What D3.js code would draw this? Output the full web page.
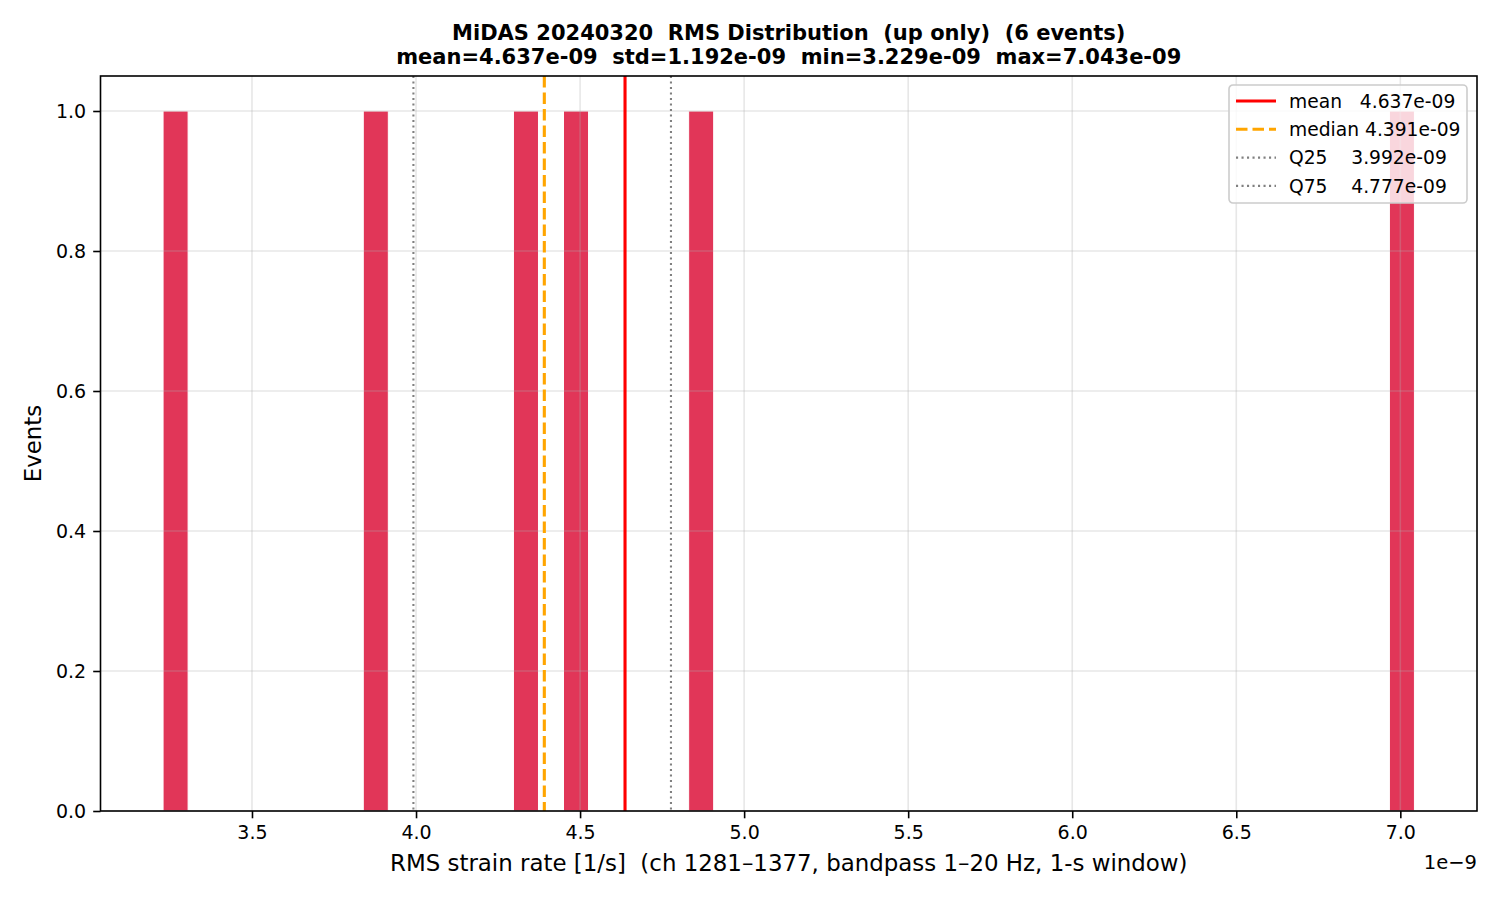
<!DOCTYPE html>
<meta charset="utf-8">

<head>
  <style>
    body {
      margin: 0;
      background: #fff;
    }

    svg text {
      font-family: "DejaVu Sans", sans-serif;
      fill: #000;
      white-space: pre;
    }

    .grid line {
      stroke: #b0b0b0;
      stroke-opacity: 0.3;
      stroke-width: 1.6px;
    }

    .axis path,
    .axis line {
      stroke: #000;
      stroke-width: 1.6px;
    }

    .axis text {
      font-size: 19px;
    }
  </style>
</head>

<body>
  <script src="https://d3js.org/d3.v7.min.js"></script>

  <div id="chart"></div>

  <script>

    // RMS values of the 6 events (units of 1e-9 1/s)
    var events = [3.229, 3.884, 4.316, 4.466, 4.884, 7.043];
    var nBins = 50;

    // summary values as printed on the figure
    var statNames = ["mean", "median", "Q25", "Q75"];
    var statValues = [4.637, 4.391, 3.992, 4.777];
    var statLabels = ["mean   4.637e-09", "median 4.391e-09", "Q25    3.992e-09", "Q75    4.777e-09"];

    var xTicks = [3.5, 4.0, 4.5, 5.0, 5.5, 6.0, 6.5, 7.0];
    var yTicks = [0.0, 0.2, 0.4, 0.6, 0.8, 1.0];

    var titleLines = [
      "MiDAS 20240320  RMS Distribution  (up only)  (6 events)",
      "mean=4.637e-09  std=1.192e-09  min=3.229e-09  max=7.043e-09"
    ];

    var width = 1500,
      height = 900;
    var margin = { top: 76, right: 23, bottom: 89, left: 100.5 };
    var iw = width - margin.left - margin.right,
      ih = height - margin.top - margin.bottom;

    var svg = d3.select('#chart')
      .append('svg')
      .attr('width', width)
      .attr('height', height);

    var g = svg.append('g')
      .attr('transform', 'translate(' + margin.left + ',' + margin.top + ')');

    var lo = d3.min(events), hi = d3.max(events);
    var step = (hi - lo) / nBins;
    var edges = d3.range(1, nBins).map(function (i) { return lo + i * step; });

    var bins = d3.bin()
      .domain([lo, hi])
      .thresholds(edges)(events);

    // matplotlib style 5% margins
    var pad = (hi - lo) * 0.05;
    var x = d3.scaleLinear()
      .domain([lo - pad, hi + pad])
      .range([0, iw]);

    var y = d3.scaleLinear()
      .domain([0, 1.05])
      .range([ih, 0]);

    // bars
    g.append('g')
      .selectAll('rect')
      .data(bins.filter(function (b) { return b.length > 0; }))
      .enter()
      .append('rect')
      .attr('x', function (b) { return x(b.x0); })
      .attr('width', function (b) { return x(b.x1) - x(b.x0); })
      .attr('y', function (b) { return y(b.length); })
      .attr('height', function (b) { return y(0) - y(b.length); })
      .attr('fill', '#dc143c')
      .attr('stroke', '#fff')
      .attr('stroke-width', 1)
      .attr('opacity', 0.85);

    // grid (drawn over bars, like the figure)
    var grid = g.append('g').attr('class', 'grid');
    grid.selectAll('.gx')
      .data(xTicks)
      .enter()
      .append('line')
      .attr('x1', function (d) { return x(d); })
      .attr('x2', function (d) { return x(d); })
      .attr('y1', 0)
      .attr('y2', ih);
    grid.selectAll('.gy')
      .data(yTicks)
      .enter()
      .append('line')
      .attr('x1', 0)
      .attr('x2', iw)
      .attr('y1', function (d) { return y(d); })
      .attr('y2', function (d) { return y(d); });

    // stat lines
    var lineStyle = {
      mean: { color: '#ff0000', width: 3.1, dash: null },
      median: { color: '#ffa500', width: 3.1, dash: '11.5,5' },
      Q25: { color: '#808080', width: 2.1, dash: '2.1,3.4' },
      Q75: { color: '#808080', width: 2.1, dash: '2.1,3.4' }
    };

    g.append('g')
      .selectAll('line')
      .data(statNames)
      .enter()
      .append('line')
      .attr('x1', function (d, i) { return x(statValues[i]); })
      .attr('x2', function (d, i) { return x(statValues[i]); })
      .attr('y1', 0)
      .attr('y2', ih)
      .attr('stroke', function (d) { return lineStyle[d].color; })
      .attr('stroke-width', function (d) { return lineStyle[d].width; })
      .attr('stroke-dasharray', function (d) { return lineStyle[d].dash; });

    // axes
    g.append('g')
      .attr('class', 'axis')
      .attr('transform', 'translate(0,' + ih + ')')
      .call(d3.axisBottom(x).tickValues(xTicks).tickFormat(d3.format('.1f')).tickSizeOuter(0).tickSize(7.3).tickPadding(7))
      .call(function (a) { a.select('.domain').remove(); });

    g.append('g')
      .attr('class', 'axis')
      .call(d3.axisLeft(y).tickValues(yTicks).tickFormat(d3.format('.1f')).tickSizeOuter(0).tickSize(7.3).tickPadding(7))
      .call(function (a) { a.select('.domain').remove(); });

    // frame
    g.append('rect')
      .attr('width', iw)
      .attr('height', ih)
      .attr('fill', 'none')
      .attr('stroke', '#000')
      .attr('stroke-width', 1.6);

    // offset text
    g.append('text')
      .attr('x', iw)
      .attr('y', ih + 58)
      .attr('text-anchor', 'end')
      .style('font-size', '19.5px')
      .text('1e\u22129');

    // axis labels
    svg.append('text')
      .attr('x', margin.left + iw / 2)
      .attr('y', 871)
      .attr('text-anchor', 'middle')
      .style('font-size', '22.9px')
      .text('RMS strain rate [1/s]  (ch 1281\u20131377, bandpass 1\u201320 Hz, 1-s window)');

    svg.append('text')
      .attr('transform', 'translate(41,' + (margin.top + ih / 2) + ') rotate(-90)')
      .attr('text-anchor', 'middle')
      .style('font-size', '22.9px')
      .text('Events');

    // title
    svg.append('g')
      .selectAll('text')
      .data(titleLines)
      .enter()
      .append('text')
      .attr('x', margin.left + iw / 2)
      .attr('y', function (d, i) { return 40 + i * 23.5; })
      .attr('text-anchor', 'middle')
      .style('font-size', '21px')
      .style('font-weight', 'bold')
      .text(function (d) { return d; });

    // legend
    var lg = svg.append('g').attr('transform', 'translate(1229,85)');
    lg.append('rect')
      .attr('width', 238)
      .attr('height', 118)
      .attr('rx', 4)
      .attr('fill', '#fff')
      .attr('fill-opacity', 0.8)
      .attr('stroke', '#cccccc')
      .attr('stroke-width', 1.6);

    var rows = lg.selectAll('.row')
      .data(statNames)
      .enter()
      .append('g')
      .attr('transform', function (d, i) { return 'translate(0,' + (16 + i * 28.3) + ')'; });

    rows.append('line')
      .attr('x1', 7)
      .attr('x2', 47)
      .attr('stroke', function (d) { return lineStyle[d].color; })
      .attr('stroke-width', function (d) { return lineStyle[d].width; })
      .attr('stroke-dasharray', function (d) { return lineStyle[d].dash; });

    rows.append('text')
      .attr('x', 60)
      .attr('y', 6.8)
      .style('font-size', '18.7px')
      .text(function (d, i) { return statLabels[i]; });

  </script>
</body>
